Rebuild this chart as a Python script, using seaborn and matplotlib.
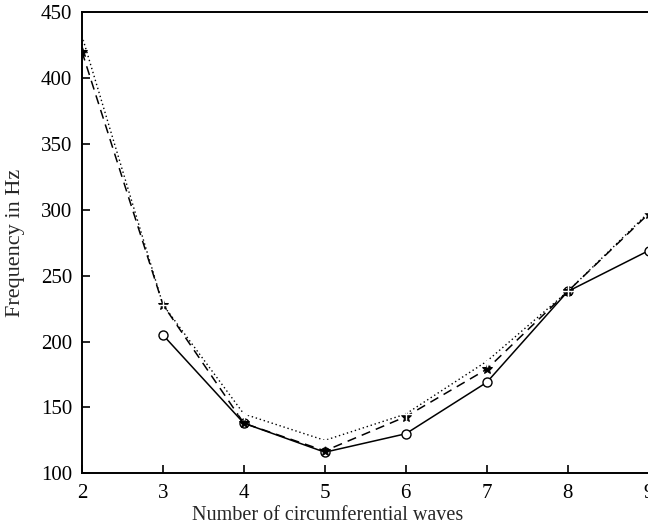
import pandas as pd
import matplotlib.pyplot as plt
import seaborn as sns

# values
waves = [2, 3, 4, 5, 6, 7, 8, 9]
freq_circle = [None, 205, 138, 116, 130, 169, 238, 269]
freq_star = [420, 228, 138, 117, 143, 179, 238, 297]
freq_plus = [432, 228, 145, 125, 145, 185, 238, 298]

df = pd.DataFrame({"waves": waves, "circle": freq_circle,
                   "star": freq_star, "plus": freq_plus})

sns.set_theme(style="ticks")
plt.rcParams["font.family"] = ["Liberation Serif", "DejaVu Serif"]

fig = plt.figure(figsize=(6.48, 5.30), dpi=100)
ax = fig.add_axes([0.1265, 0.107, 0.8745, 0.87])

sub = df.dropna(subset=["circle"])
sns.lineplot(data=sub, x="waves", y="circle", ax=ax, color="black", linestyle="-",
             linewidth=1.1, marker="o", markersize=6.5, markerfacecolor="white",
             markeredgecolor="black", markeredgewidth=1.0)
sns.lineplot(data=df, x="waves", y="star", ax=ax, color="black", linestyle=(0, (6, 4)),
             linewidth=1.1, marker="*", markersize=7, markeredgecolor="black")
sns.lineplot(data=df, x="waves", y="plus", ax=ax, color="black", linestyle=(0, (1, 2)),
             linewidth=1.0, marker="+", markersize=8, markeredgewidth=1.0)

ax.set_xlim(2, 9)
ax.set_ylim(100, 450)
ax.set_xticks(waves)
ax.set_yticks(range(100, 451, 50))
ax.set_xlabel("Number of circumferential waves", fontsize=14.5)
ax.set_ylabel("Frequency in Hz", fontsize=16)
ax.xaxis.set_label_coords(0.434, -0.07)
ax.yaxis.set_label_coords(-0.10, 0.5)
ax.tick_params(direction="in", length=6, width=1.2, labelsize=15, colors="black")
ax.tick_params(axis="y", pad=7)
ax.tick_params(axis="x", pad=8)
for side in ["left", "bottom", "top", "right"]:
    ax.spines[side].set_visible(True)
    ax.spines[side].set_linewidth(1.4)
    ax.spines[side].set_color("black")

fig.savefig("out.png", dpi=100)
